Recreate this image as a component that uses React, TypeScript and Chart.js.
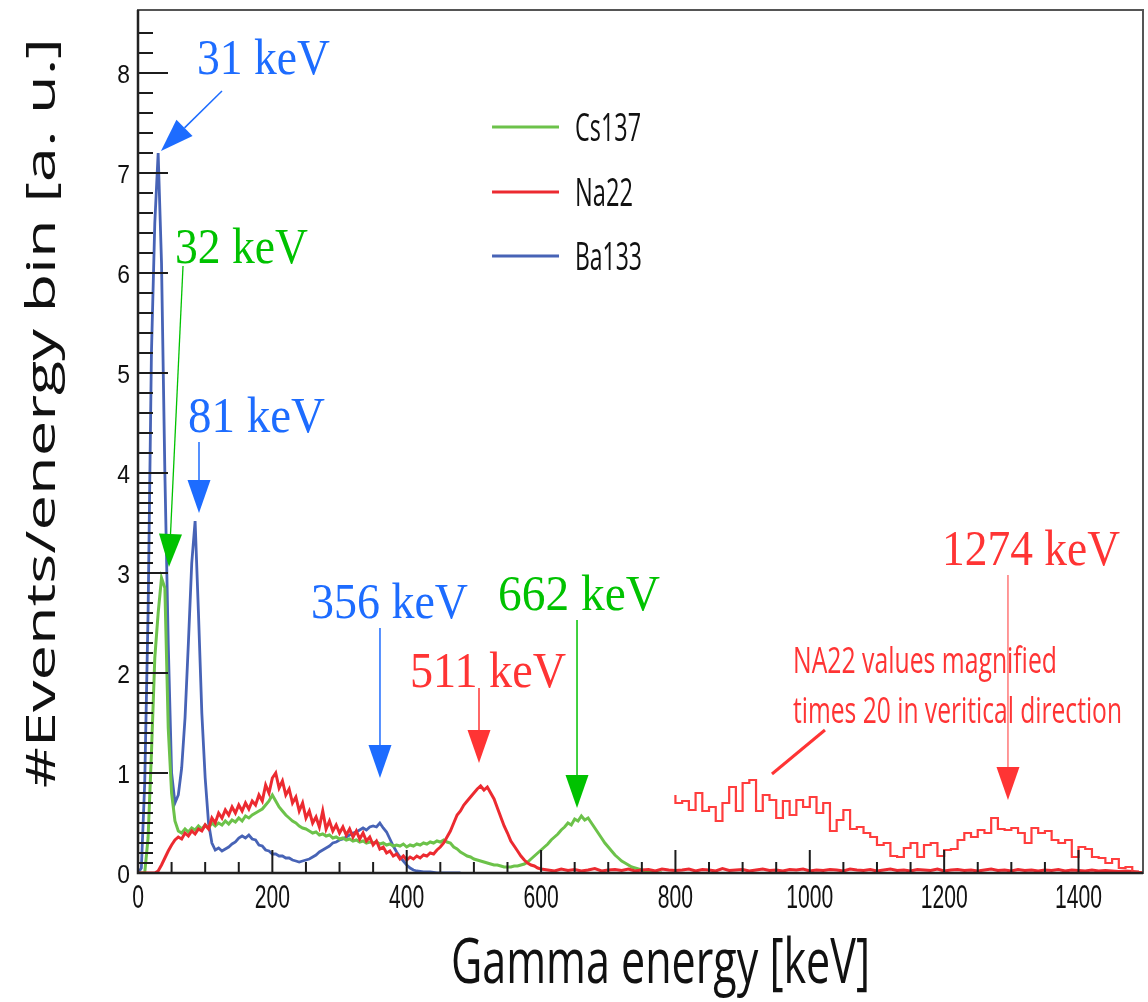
import React, { useEffect, useRef } from 'react';
import { Chart, registerables } from 'chart.js';

Chart.register(...registerables);

// ---------------- data ----------------
// Ba133, 5 keV bins starting at 0 keV
const ba133Values = [
  0, 0.05, 0.9, 2.6, 5.2, 6.5, 7.2, 6.1, 4.0, 2.3,
  1.0, 0.7, 0.78, 1.05, 1.55, 2.3, 3.1, 3.52, 2.6, 1.6,
  0.95, 0.5, 0.3, 0.23, 0.25, 0.22, 0.24, 0.26, 0.29, 0.31,
  0.35, 0.37, 0.35, 0.38, 0.34, 0.33, 0.28, 0.27, 0.23, 0.22,
  0.19, 0.19, 0.17, 0.17, 0.15, 0.15, 0.13, 0.12, 0.11, 0.12,
  0.13, 0.14, 0.16, 0.18, 0.21, 0.23, 0.25, 0.27, 0.3, 0.31,
  0.33, 0.34, 0.36, 0.38, 0.4, 0.41, 0.43, 0.45, 0.43, 0.46,
  0.47, 0.46, 0.5, 0.45, 0.41, 0.34, 0.27, 0.21, 0.16, 0.12,
  0.08, 0.05, 0.03, 0.02, 0.015, 0.01, 0.01, 0.01, 0.005, 0,
  0, 0, 0, 0, 0, 0, 0,
];

// Cs137, 5 keV bins starting at 0 keV
const cs137Values = [
  0, 0, 0, 0.35, 1.2, 2.15, 2.6, 2.95, 2.85, 1.45,
  0.8, 0.52, 0.42, 0.4, 0.44, 0.41, 0.45, 0.43, 0.47, 0.44,
  0.48, 0.45, 0.5, 0.47, 0.5, 0.48, 0.52, 0.49, 0.53, 0.51,
  0.55, 0.52, 0.57, 0.55, 0.58, 0.6, 0.62, 0.64, 0.68, 0.72,
  0.78, 0.72, 0.66, 0.62, 0.58, 0.55, 0.52, 0.5, 0.47, 0.45,
  0.44, 0.42, 0.4, 0.41, 0.38, 0.39, 0.37, 0.38, 0.35, 0.36,
  0.34, 0.35, 0.33, 0.34, 0.32, 0.33, 0.31, 0.32, 0.3, 0.31,
  0.3, 0.31, 0.29, 0.3, 0.28, 0.29, 0.27, 0.28, 0.27, 0.29,
  0.26, 0.28, 0.27, 0.29, 0.28, 0.3, 0.29, 0.31, 0.3, 0.32,
  0.31, 0.33, 0.31, 0.3, 0.26, 0.24, 0.21, 0.19, 0.17, 0.16,
  0.14, 0.13, 0.12, 0.11, 0.1, 0.09, 0.08, 0.08, 0.07, 0.06,
  0.06, 0.06, 0.07, 0.07, 0.08, 0.09, 0.11, 0.14, 0.17, 0.2,
  0.23, 0.26, 0.29, 0.33, 0.36, 0.39, 0.43, 0.46, 0.5, 0.48,
  0.54, 0.52, 0.57, 0.53, 0.55, 0.5, 0.45, 0.4, 0.35, 0.3,
  0.26, 0.22, 0.18, 0.15, 0.12, 0.1, 0.08, 0.06, 0.05, 0.04,
  0.03, 0.02, 0.02, 0.01, 0.01, 0, 0,
];

// Na22, 5 keV bins from 0 to 600 keV
const na22Values = [
  0, 0, 0, 0, 0, 0, 0.02, 0.08, 0.15, 0.22,
  0.28, 0.33, 0.36, 0.34, 0.4, 0.37, 0.42, 0.39, 0.44, 0.42,
  0.48, 0.44, 0.55, 0.5, 0.6, 0.55, 0.63, 0.58, 0.66, 0.6,
  0.68, 0.62, 0.7, 0.64, 0.72, 0.68, 0.78, 0.72, 0.88, 0.8,
  0.95, 1.0, 0.85, 0.92, 0.78, 0.84, 0.7, 0.76, 0.62, 0.7,
  0.55, 0.62, 0.5, 0.56, 0.46, 0.62, 0.44, 0.52, 0.42, 0.48,
  0.4, 0.46, 0.38, 0.44, 0.36, 0.42, 0.34, 0.4, 0.32, 0.36,
  0.28, 0.32, 0.24, 0.26, 0.2, 0.22, 0.17, 0.19, 0.14, 0.17,
  0.13, 0.16, 0.14, 0.17, 0.15, 0.18, 0.17, 0.2, 0.19, 0.23,
  0.26, 0.3, 0.36, 0.42, 0.5, 0.58, 0.62, 0.68, 0.72, 0.76,
  0.8, 0.84, 0.87, 0.83, 0.86, 0.8, 0.74, 0.65, 0.56, 0.47,
  0.4, 0.32, 0.27, 0.22, 0.17, 0.13, 0.1, 0.08, 0.07, 0.05,
  0.04,
];

// Na22 tail, 10 keV bins from 610 keV
const na22TailValues = [
  0.03, 0.02, 0.04, 0.025, 0.035, 0.02, 0.03, 0.045, 0.02, 0.03,
  0.035, 0.025, 0.04, 0.02, 0.03, 0.035, 0.02, 0.04, 0.03, 0.025,
  0.03, 0.04, 0.02, 0.035, 0.03, 0.02, 0.045, 0.025, 0.03, 0.035,
  0.02, 0.03, 0.04, 0.025, 0.03, 0.02, 0.035, 0.03, 0.04, 0.02,
  0.03, 0.025, 0.035, 0.03, 0.02, 0.04, 0.03, 0.025, 0.035, 0.02,
  0.03, 0.04, 0.025, 0.03, 0.02, 0.035, 0.03, 0.025, 0.04, 0.02,
  0.03, 0.035, 0.025, 0.03, 0.02, 0.03, 0.04, 0.025, 0.03, 0.02,
  0.035, 0.025, 0.03, 0.02, 0.03, 0.025, 0.035, 0.02, 0.03, 0.025,
  0.02, 0.03, 0.02, 0.025, 0.02, 0.015, 0.02, 0.015, 0.01,
];

// Na22 x20, 10 keV bins from 800 keV
const na22MagnifiedValues = [
  0.78, 0.7, 0.72, 0.63, 0.8, 0.62, 0.66, 0.52, 0.7, 0.86,
  0.62, 0.9, 0.93, 0.62, 0.78, 0.73, 0.55, 0.72, 0.58, 0.73,
  0.66, 0.76, 0.6, 0.7, 0.42, 0.53, 0.63, 0.44, 0.46, 0.4,
  0.36, 0.28, 0.3, 0.17, 0.16, 0.25, 0.3, 0.16, 0.28, 0.3,
  0.17, 0.23, 0.24, 0.33, 0.4, 0.36, 0.43, 0.4, 0.55, 0.44,
  0.43, 0.45, 0.4, 0.3, 0.45, 0.4, 0.42, 0.33, 0.3, 0.33,
  0.16, 0.26, 0.24, 0.16, 0.15, 0.1, 0.14, 0.05, 0.06, 0.01,
];

const xTickLabels = [0, 200, 400, 600, 800, 1000, 1200, 1400];
const yTickLabels = [0, 1, 2, 3, 4, 5, 6, 7, 8];

const seriesNames = ['Cs137', 'Na22', 'Ba133'];

// ---------------- styles ----------------
const CS_COLOR = '#6cc24a';
const NA_COLOR = '#ec2a30';
const NA_MAG_COLOR = '#ff3d3d';
const BA_COLOR = '#4763b6';
const TXT_BLUE = '#1d6cff';
const TXT_GREEN = '#00c200';
const TXT_RED = '#ff3434';
const SANS = '"Open Sans", "DejaVu Sans", sans-serif';
const SERIF = '"Liberation Serif", "DejaVu Serif", serif';

// annotations in data units (keV, a.u.)
const peakNotes = [
  { text: '31 keV', color: TXT_BLUE, tx: 87.8, ty: 7.99, w: 133, x1: 125, y1: 7.82, x2: 34.2, y2: 7.22, lw: 1.5 },
  { text: '32 keV', color: TXT_GREEN, tx: 55.1, ty: 6.1, w: 133, x1: 67.0, y1: 6.07, x2: 46.1, y2: 3.06, lw: 1.3 },
  { text: '81 keV', color: TXT_BLUE, tx: 74.4, ty: 4.41, w: 137, x1: 90.8, y1: 4.31, x2: 90.8, y2: 3.6, lw: 1.5 },
  { text: '356 keV', color: TXT_BLUE, tx: 257.5, ty: 2.55, w: 157, x1: 360.2, y1: 2.45, x2: 360.2, y2: 0.95, lw: 1.5 },
  { text: '511 keV', color: TXT_RED, tx: 404.9, ty: 1.86, w: 156, x1: 507.6, y1: 1.85, x2: 507.6, y2: 1.1, lw: 1.5 },
  { text: '662 keV', color: TXT_GREEN, tx: 535.9, ty: 2.63, w: 162, x1: 653.5, y1: 2.53, x2: 653.5, y2: 0.65, lw: 1.5 },
  { text: '1274 keV', color: TXT_RED, tx: 1196.8, ty: 3.08, w: 178, x1: 1295.0, y1: 2.98, x2: 1295.0, y2: 0.73, lw: 1 },
];

const toPoints = (vals: number[], start: number, step: number) =>
  vals.map((v, i) => ({ x: start + i * step, y: v }));

function fitText(ctx: CanvasRenderingContext2D, text: string, x: number, y: number, font: string, color: string, width: number) {
  ctx.save();
  ctx.font = font;
  const w = ctx.measureText(text).width;
  ctx.translate(x, y);
  ctx.scale(width / w, 1);
  ctx.fillStyle = color;
  ctx.textAlign = 'left';
  ctx.textBaseline = 'alphabetic';
  ctx.fillText(text, 0, 0);
  ctx.restore();
}

function scaledText(ctx: CanvasRenderingContext2D, text: string, x: number, y: number, font: string, color: string, sx: number, align: CanvasTextAlign) {
  ctx.save();
  ctx.font = font;
  ctx.translate(x, y);
  ctx.scale(sx, 1);
  ctx.fillStyle = color;
  ctx.textAlign = align;
  ctx.textBaseline = 'alphabetic';
  ctx.fillText(text, 0, 0);
  ctx.restore();
}

function arrow(ctx: CanvasRenderingContext2D, x1: number, y1: number, x2: number, y2: number, color: string, lw: number) {
  const dx = x2 - x1;
  const dy = y2 - y1;
  const len = Math.hypot(dx, dy);
  const ux = dx / len;
  const uy = dy / len;
  const headLen = 33;
  const headHalf = 11.5;
  const bx = x2 - ux * headLen;
  const by = y2 - uy * headLen;
  ctx.save();
  ctx.strokeStyle = color;
  ctx.fillStyle = color;
  ctx.lineWidth = lw;
  ctx.beginPath();
  ctx.moveTo(x1, y1);
  ctx.lineTo(bx, by);
  ctx.stroke();
  ctx.beginPath();
  ctx.moveTo(x2, y2);
  ctx.lineTo(bx - uy * headHalf, by + ux * headHalf);
  ctx.lineTo(bx + uy * headHalf, by - ux * headHalf);
  ctx.closePath();
  ctx.fill();
  ctx.restore();
}

const rootStyle = {
  id: 'rootStyle',
  afterDatasetsDraw(chart: any) {
    const { ctx, chartArea: a, scales } = chart;
    const xs = scales.x;
    const ys = scales.y;
    ctx.save();
    ctx.strokeStyle = '#1c1c1c';
    ctx.lineWidth = 2;
    ctx.beginPath();
    for (const t of ys.ticks) {
      const k = Math.round(t.value * 10);
      if (Math.abs(t.value * 10 - k) > 1e-6) continue;
      const major = k % 10 === 0;
      if (!major && k >= 40 && k % 2 !== 0) continue;
      const py = ys.getPixelForValue(t.value);
      ctx.moveTo(a.left, py);
      ctx.lineTo(a.left + (major ? 30 : 15), py);
    }
    for (const t of xs.ticks) {
      const v = Math.round(t.value);
      if (Math.abs(t.value - v) > 1e-6 || v % 50 !== 0) continue;
      const major = v % 200 === 0;
      const px = xs.getPixelForValue(v);
      ctx.moveTo(px, a.bottom);
      ctx.lineTo(px, a.bottom - (major ? 23 : 11));
    }
    ctx.stroke();
    // frame
    ctx.strokeStyle = '#555';
    ctx.lineWidth = 2;
    ctx.strokeRect(a.left, a.top, a.right - a.left, a.bottom - a.top);
    ctx.strokeStyle = '#222';
    ctx.lineWidth = 2.5;
    ctx.beginPath();
    ctx.moveTo(a.left, a.top);
    ctx.lineTo(a.left, a.bottom);
    ctx.lineTo(a.right, a.bottom);
    ctx.stroke();
    ctx.restore();
  },
  afterDraw(chart: any) {
    const { ctx, chartArea: a, scales } = chart;
    const xs = scales.x;
    const ys = scales.y;
    const X = (v: number) => xs.getPixelForValue(v);
    const Y = (v: number) => ys.getPixelForValue(v);

    // tick labels
    for (const v of yTickLabels) {
      scaledText(ctx, String(v), a.left - 8, Y(v) + 9.5, '26px "Liberation Sans", Arial, sans-serif', '#111', 0.88, 'right');
    }
    for (const v of xTickLabels) {
      scaledText(ctx, String(v), X(v), a.bottom + 35, '33px "Liberation Sans", Arial, sans-serif', '#111', 0.64, 'center');
    }

    // axis titles
    fitText(ctx, 'Gamma energy [keV]', 451, 983, `63px ${SANS}`, '#111', 419);
    ctx.save();
    ctx.translate(55, 788);
    ctx.rotate(-Math.PI / 2);
    fitText(ctx, '#Events/energy bin [a. u.]', 0, 0, `40px ${SANS}`, '#111', 750);
    ctx.restore();

    // legend
    const legendColors = [CS_COLOR, NA_COLOR, BA_COLOR];
    const legendY = [7.46, 6.81, 6.17];
    const legendW = [66, 58, 67];
    seriesNames.forEach((name, i) => {
      const py = Y(legendY[i]);
      ctx.save();
      ctx.strokeStyle = legendColors[i];
      ctx.lineWidth = 3;
      ctx.beginPath();
      ctx.moveTo(X(527), py);
      ctx.lineTo(X(626.7), py);
      ctx.stroke();
      ctx.restore();
      fitText(ctx, name, X(650.5), py + 13.5, `38px ${SANS}`, '#111', legendW[i]);
    });

    // peak annotations
    for (const n of peakNotes) {
      fitText(ctx, n.text, X(n.tx), Y(n.ty), `50px ${SERIF}`, n.color, n.w);
      arrow(ctx, X(n.x1), Y(n.y1), X(n.x2), Y(n.y2), n.color, n.lw);
    }

    // magnification note
    fitText(ctx, 'NA22 values magnified', X(975), Y(2.0), `36px ${SANS}`, TXT_RED, 264);
    fitText(ctx, 'times 20 in veritical direction', X(975), Y(1.5), `36px ${SANS}`, TXT_RED, 329);
    ctx.save();
    ctx.strokeStyle = TXT_RED;
    ctx.lineWidth = 3;
    ctx.beginPath();
    ctx.moveTo(X(1022.6), Y(1.43));
    ctx.lineTo(X(943.7), Y(0.99));
    ctx.stroke();
    ctx.restore();
  },
};

export default function App() {
  const ref = useRef<HTMLCanvasElement>(null);

  useEffect(() => {
    const canvas = ref.current;
    if (!canvas) return;
    const naAll = [...toPoints(na22Values, 0, 5), ...toPoints(na22TailValues, 610, 10)];
    const magPts = toPoints(na22MagnifiedValues, 800, 10);
    magPts.push({ x: 1500, y: na22MagnifiedValues[na22MagnifiedValues.length - 1] });

    const chart = new Chart(canvas, {
      type: 'line',
      data: {
        datasets: [
          { label: 'Na22 x20', data: magPts, borderColor: NA_MAG_COLOR, borderWidth: 2.2, stepped: 'after', pointRadius: 0, order: 0 } as any,
          { label: seriesNames[1], data: naAll, borderColor: NA_COLOR, borderWidth: 3, pointRadius: 0, order: 1 },
          { label: seriesNames[0], data: toPoints(cs137Values, 0, 5), borderColor: CS_COLOR, borderWidth: 3, pointRadius: 0, order: 2 },
          { label: seriesNames[2], data: toPoints(ba133Values, 0, 5), borderColor: BA_COLOR, borderWidth: 2.8, pointRadius: 0, order: 3 },
        ],
      },
      options: {
        responsive: false,
        animation: false,
        events: [],
        layout: { padding: { left: 0, top: 10, right: 5, bottom: 0 } },
        plugins: { legend: { display: false }, tooltip: { enabled: false } },
        elements: { line: { tension: 0, fill: false } },
        scales: {
          x: {
            type: 'linear',
            min: 0,
            max: 1496,
            ticks: { display: false, stepSize: 50, autoSkip: false, maxTicksLimit: 1000 },
            grid: { display: false },
            border: { display: false },
            afterFit: (s: any) => { s.height = 129; },
          },
          y: {
            type: 'linear',
            min: 0,
            max: 8.63,
            ticks: { display: false, stepSize: 0.1, autoSkip: false, maxTicksLimit: 1000 },
            grid: { display: false },
            border: { display: false },
            afterFit: (s: any) => { s.width = 138; },
          },
        },
      } as any,
      plugins: [rootStyle as any],
    });
    return () => chart.destroy();
  }, []);

  return (
    <div style={{ position: 'absolute', left: 0, top: 0, width: 1148, height: 1002, background: '#fff' }}>
      <canvas ref={ref} width={1148} height={1002} style={{ display: 'block' }} />
    </div>
  );
}
